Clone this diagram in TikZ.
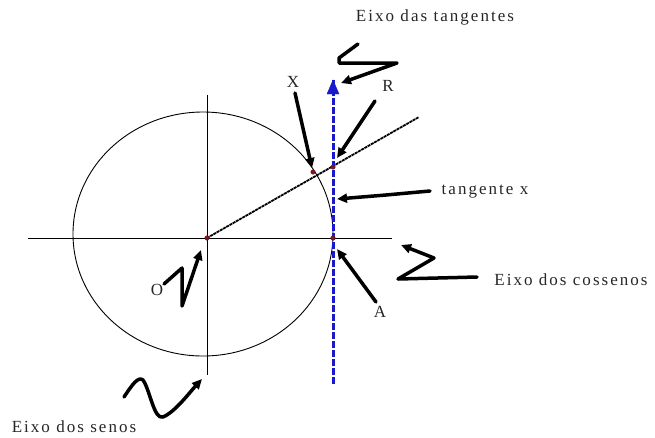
\documentclass[tikz,border=0pt]{standalone}
\usepackage{fontspec}
\setmainfont{Liberation Serif}[LetterSpace=12]
\usetikzlibrary{arrows.meta}
\definecolor{axisblue}{RGB}{25,25,205}
\definecolor{dotred}{RGB}{125,25,35}
\begin{document}
\begin{tikzpicture}[x=1pt,y=-1pt,
  lbl/.style={font=\fontsize{17}{20}\selectfont, inner sep=0pt, text=black!85},
  pt/.style={circle, fill=dotred, draw=dotred!70!black, inner sep=0pt, minimum size=4.5pt},
  hand/.style={line width=3.5pt, line cap=round, line join=round, -{Triangle[length=10pt,width=9pt]}},
  ax/.style={line width=1pt},
  radial/.style={line width=1.8pt, black, dash pattern=on 3pt off 0.7pt},
  tanaxis/.style={line width=3pt, axisblue, dash pattern=on 7pt off 2pt},
]
\useasboundingbox (0,0) rectangle (655,437);
% main geometry
\coordinate (O) at (207,238);
\coordinate (Hl) at (28,238);
\coordinate (Hr) at (392,238);
\coordinate (Vt) at (207,95);
\coordinate (Vb) at (207,375);
\coordinate (Tb) at (333,384);
\coordinate (Tt) at (333,80);
\coordinate (Lend) at (419,117);

\draw[line width=0.9pt] (203,234) ellipse [x radius=130pt, y radius=122pt];
\draw[ax] (Hl) -- (Hr);
\draw[ax] (Vt) -- (Vb);
\draw[radial] (O) -- (Lend);
\draw[tanaxis] (Tb) -- (Tt);
\draw[axisblue, fill=axisblue] (Tt) -- ++(-6,14) -- ++(12,0) -- cycle;

\node[pt] (Op) at (O) {};
\node[pt] (Xp) at (313,172) {};
\node[pt] (Rp) at (333,167) {};
\node[pt] (Ap) at (333,238) {};

% labels
\node[lbl] (ltan) at (435,17) {Eixo das tangentes};
\node[lbl] (lX) at (293,82) {X};
\node[lbl] (lR) at (388,86) {R};
\node[lbl] (ltx) at (485,192) {tangente x};
\node[lbl] (lcos) at (571,280) {Eixo dos cossenos};
\node[lbl] (lA) at (380,312) {A};
\node[lbl] (lO) at (157,290) {O};
\node[lbl] (lsen) at (74,427) {Eixo dos senos};

% hand-drawn arrows
\coordinate (r1) at (358,44);
\coordinate (r2) at (339,58);
\coordinate (r3) at (339,63);
\coordinate (r4) at (397,63);
\coordinate (rtop) at (341,83);
\draw[hand] (r1) -- (r2) -- (r3) -- (r4) -- (rtop);

\coordinate (xs) at (295,93);
\coordinate (xt) at (312,168);
\draw[hand] (xs) -- (xt);

\coordinate (rs) at (375,101);
\coordinate (rt) at (337,158);
\draw[hand] (rs) -- (rt);

\coordinate (t1) at (430,191);
\coordinate (t2) at (386,195);
\coordinate (tt) at (337,199);
\draw[hand] (t1) -- (t2) -- (tt);

\coordinate (c1) at (477,277);
\coordinate (c2) at (398,279);
\coordinate (c3) at (434,258);
\coordinate (ct) at (401,245);
\draw[hand] (c1) -- (c2) -- (c3) -- (ct);

\coordinate (as) at (376,302);
\coordinate (at) at (337,249);
\draw[hand] (as) -- (at);

\coordinate (o1) at (164,284);
\coordinate (o2) at (182,268);
\coordinate (o3) at (182,306);
\coordinate (ot) at (201,250);
\draw[hand] (o1) -- (o2) -- (o3) -- (ot);

\coordinate (s1) at (124,397);
\coordinate (s2) at (143,380);
\coordinate (s3) at (163,417);
\coordinate (st) at (202,379);
\draw[hand] (s1) .. controls (132,385) and (138,376) .. (s2)
  .. controls (150,390) and (154,420) .. (s3)
  .. controls (175,412) and (190,392) .. (st);
\end{tikzpicture}
\end{document}
